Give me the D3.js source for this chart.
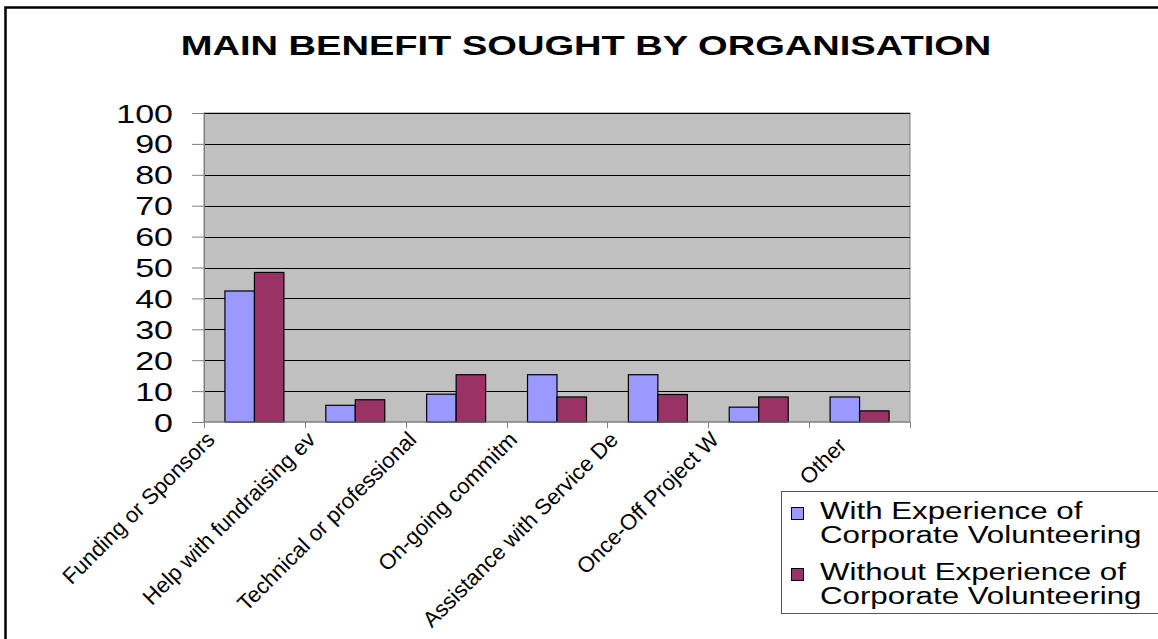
<!DOCTYPE html>
<html>
<head>
<meta charset="utf-8">
<script src="https://d3js.org/d3.v7.min.js"></script>
<style>
  body { margin: 0; background: #fff; }
  svg { display: block; font-family: "Liberation Sans", Arial, sans-serif; }
</style>
</head>
<body>
<div id="chart"></div>
<script>
// data
var categories = ["Funding or Sponsors", "Help with fundraising ev", "Technical or professional",
                  "On-going commitm", "Assistance with Service De", "Once-Off Project W", "Other"];
var series = ["With Experience of Corporate Volunteering", "Without Experience of Corporate Volunteering"];
var withExp = [42.4, 5.4, 9.0, 15.3, 15.3, 4.8, 8.1];
var withoutExp = [48.4, 7.2, 15.3, 8.1, 8.9, 8.1, 3.6];
var yTicks = [0, 10, 20, 30, 40, 50, 60, 70, 80, 90, 100];

var W = 1158, H = 639;
var sx = 1.36; // the picture is stretched sideways

var svg = d3.select("#chart").append("svg")
  .attr("width", W)
  .attr("height", H);

// outer frame
svg.append("rect")
  .attr("x", 5.5).attr("y", 7.5)
  .attr("width", W + 20).attr("height", H + 20)
  .attr("fill", "none").attr("stroke", "#000").attr("stroke-width", 2.5);

// title
svg.append("text")
  .attr("transform", "translate(586,55) scale(" + sx + ",1)")
  .attr("text-anchor", "middle")
  .attr("font-weight", "bold")
  .attr("font-size", 28)
  .text("MAIN BENEFIT SOUGHT BY ORGANISATION");

var x = d3.scaleBand()
  .domain(categories)
  .range([204, 910]);

var xs = d3.scaleBand()
  .domain(series)
  .range([0, x.bandwidth()])
  .paddingOuter(0.71);

var y = d3.scaleLinear()
  .domain([0, 100])
  .range([422, 113]);

// plot background
svg.append("rect")
  .attr("x", x.range()[0]).attr("y", y(100))
  .attr("width", x.range()[1] - x.range()[0])
  .attr("height", y(0) - y(100))
  .attr("fill", "#c0c0c0")
  .attr("stroke", "#808080");

// gridlines
svg.append("g")
  .selectAll("line")
  .data(yTicks.filter(d => d > 0))
  .join("line")
  .attr("x1", x.range()[0]).attr("x2", x.range()[1])
  .attr("y1", d => Math.round(y(d)) + 0.5).attr("y2", d => Math.round(y(d)) + 0.5)
  .attr("stroke", "#000");

// bars
var rows = categories.map((c, i) => ({ cat: c, vals: [withExp[i], withoutExp[i]] }));
var colors = d3.scaleOrdinal().domain(series).range(["#9999ff", "#993366"]);

svg.append("g")
  .selectAll("g")
  .data(rows)
  .join("g")
  .attr("transform", d => "translate(" + x(d.cat) + ",0)")
  .selectAll("rect")
  .data(d => d.vals.map((v, j) => ({ s: series[j], v: v })))
  .join("rect")
  .attr("x", d => xs(d.s))
  .attr("width", xs.bandwidth())
  .attr("y", d => y(d.v))
  .attr("height", d => y(0) - y(d.v))
  .attr("fill", d => colors(d.s))
  .attr("stroke", "#000")
  .attr("stroke-width", 1.2);

// y axis
var yAxis = svg.append("g")
  .attr("transform", "translate(" + x.range()[0] + ",0)")
  .call(d3.axisLeft(y).tickValues(yTicks).tickSize(12).tickSizeOuter(0));
yAxis.select(".domain").attr("stroke", "#808080");
yAxis.selectAll(".tick line").attr("stroke", "#808080");
yAxis.selectAll(".tick text")
  .attr("font-family", "Liberation Sans, Arial, sans-serif")
  .attr("font-size", 25)
  .attr("fill", "#000")
  .attr("dy", null)
  .attr("y", 9)
  .attr("x", -31 / sx)
  .attr("transform", "scale(" + sx + ",1)");

// x axis line and ticks at category edges
var xg = svg.append("g");
xg.append("line")
  .attr("x1", x.range()[0]).attr("x2", x.range()[1])
  .attr("y1", y(0)).attr("y2", y(0))
  .attr("stroke", "#808080");
var edges = categories.map(c => x(c)).concat([x.range()[1]]);
xg.selectAll(".edge")
  .data(edges)
  .join("line")
  .attr("class", "edge")
  .attr("x1", d => Math.round(d) + 0.5).attr("x2", d => Math.round(d) + 0.5)
  .attr("y1", y(0)).attr("y2", y(0) + 6)
  .attr("stroke", "#808080");

// category labels, rotated
xg.selectAll(".lab")
  .data(categories)
  .join("text")
  .attr("class", "lab")
  .attr("font-size", 22)
  .attr("text-anchor", "end")
  .text(d => d)
  .each(function(d) {
    var len = this.getComputedTextLength();
    // long labels were cut at the left edge of their slot
    var px = len > 120 ? x(d) + 12 : x(d) + x.bandwidth() / 2 - 12;
    var py = len > 120 ? 441 : 447;
    d3.select(this).attr("transform", "translate(" + px + "," + py + ") rotate(-45)");
  });

// legend
var lg = svg.append("g");
lg.append("rect")
  .attr("x", 781.5).attr("y", 491.5)
  .attr("width", 400).attr("height", 122)
  .attr("fill", "#fff")
  .attr("stroke", "#555");

var legendLines = [["With Experience of", "Corporate Volunteering"],
                   ["Without Experience of", "Corporate Volunteering"]];
var items = lg.selectAll(".item")
  .data(series)
  .join("g")
  .attr("class", "item")
  .attr("transform", (d, i) => "translate(0," + (i * 61) + ")");

items.append("rect")
  .attr("x", 791.5).attr("y", 507.5)
  .attr("width", 12).attr("height", 12)
  .attr("fill", d => colors(d))
  .attr("stroke", "#000");

items.each(function(d, i) {
  var g = d3.select(this);
  legendLines[i].forEach(function(t, k) {
    g.append("text")
      .attr("transform", "translate(820," + (519 + k * 24) + ") scale(" + sx + ",1)")
      .attr("font-size", 23)
      .text(t);
  });
});
</script>
</body>
</html>
